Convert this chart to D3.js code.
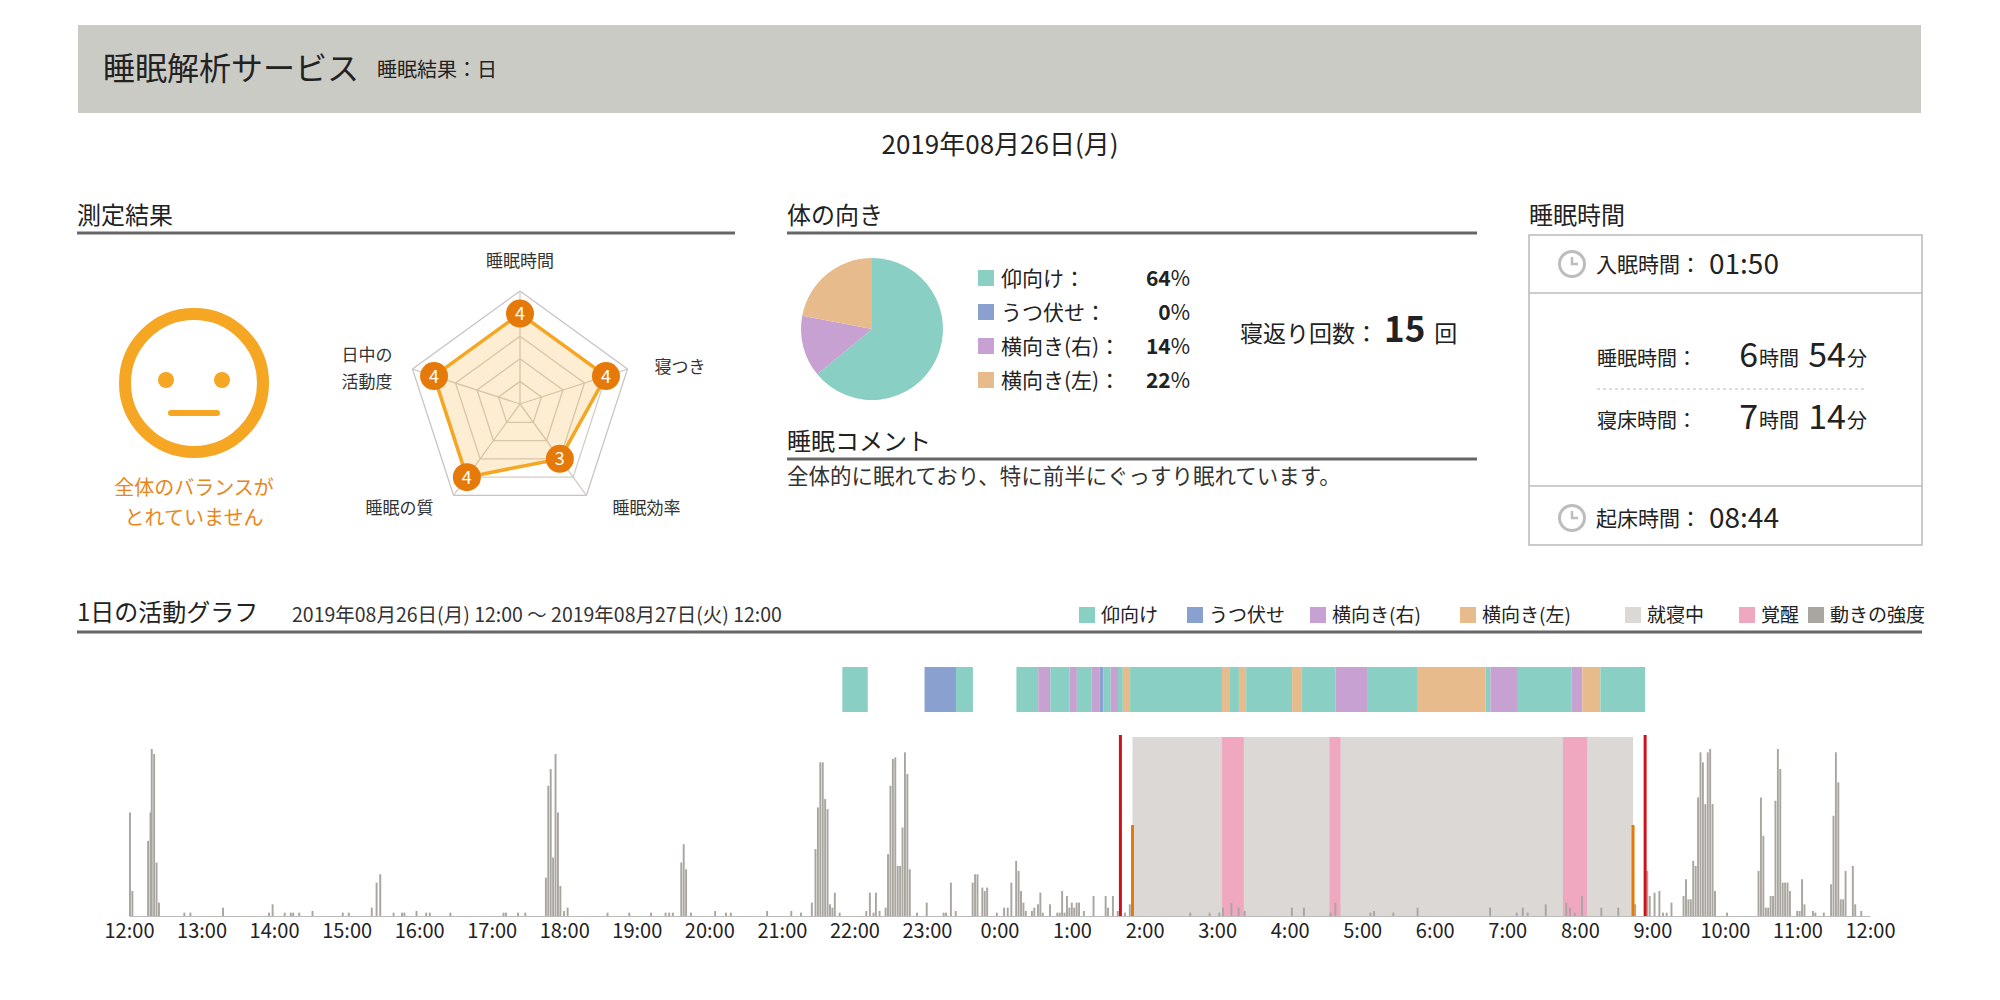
<!DOCTYPE html>
<html>
<head>
<meta charset="utf-8">
<script src="https://cdn.jsdelivr.net/npm/d3@7"></script>
<style>
  body { margin: 0; background: #fff; }
  svg { display: block; font-family: "Noto Sans CJK JP", "Noto Sans", sans-serif; }
</style>
</head>
<body>
<svg id="chart" width="2000" height="1000"></svg>
<script>
// ---- data ----
const reportDate = "2019年08月26日(月)";
const rangeText = "2019年08月26日(月) 12:00 ～ 2019年08月27日(火) 12:00";

const radarAxes = ["睡眠時間", "寝つき", "睡眠効率", "睡眠の質", "日中の活動度"];
const radarValues = [4, 4, 3, 4, 4];
const radarMax = 5;

const postureNames = ["仰向け", "うつ伏せ", "横向き(右)", "横向き(左)"];
const posturePercents = [64, 0, 14, 22];
const rollCount = 15;
const comment = "全体的に眠れており、特に前半にぐっすり眠れています。";

const sleepOnset = "1:50";
const wakeUp = "8:44";
const bedIn = "1:40";
const bedOut = "8:54";

// posture strip: [start, end, posture]
const postureSegments = [
  ["21:50", "22:11", "仰向け"],
  ["22:58", "23:24", "うつ伏せ"],
  ["23:24", "23:38", "仰向け"],
  ["0:14", "0:32", "仰向け"],
  ["0:32", "0:42", "横向き(右)"],
  ["0:42", "0:58", "仰向け"],
  ["0:58", "1:04", "横向き(右)"],
  ["1:04", "1:16", "仰向け"],
  ["1:16", "1:23", "横向き(右)"],
  ["1:23", "1:26", "うつ伏せ"],
  ["1:26", "1:32", "仰向け"],
  ["1:32", "1:38", "横向き(右)"],
  ["1:38", "1:42", "仰向け"],
  ["1:42", "1:48", "横向き(左)"],
  ["1:48", "3:04", "仰向け"],
  ["3:04", "3:10", "横向き(左)"],
  ["3:10", "3:18", "仰向け"],
  ["3:18", "3:24", "横向き(左)"],
  ["3:24", "4:02", "仰向け"],
  ["4:02", "4:10", "横向き(左)"],
  ["4:10", "4:38", "仰向け"],
  ["4:38", "5:04", "横向き(右)"],
  ["5:04", "5:46", "仰向け"],
  ["5:46", "6:42", "横向き(左)"],
  ["6:42", "6:46", "仰向け"],
  ["6:46", "7:08", "横向き(右)"],
  ["7:08", "7:53", "仰向け"],
  ["7:53", "8:02", "横向き(右)"],
  ["8:02", "8:17", "横向き(左)"],
  ["8:17", "8:54", "仰向け"]
];

// awake bands inside the sleep period
const wakeBands = [["3:04", "3:22"], ["4:33", "4:42"], ["7:46", "8:06"]];

// movement intensity (0-100), [time, value]
const activity = [
  ["12:00", 62], ["12:02", 15], ["12:15", 45], ["12:17", 62], ["12:18", 100], ["12:20", 97],
  ["12:22", 32], ["12:24", 8], ["12:45", 2], ["12:50", 2], ["13:17", 5], ["13:55", 2],
  ["13:58", 7], ["14:08", 2], ["14:13", 2], ["14:15", 2], ["14:20", 2], ["14:31", 3],
  ["14:56", 2], ["15:01", 2], ["15:20", 5], ["15:24", 20], ["15:27", 25], ["15:38", 2],
  ["15:45", 2], ["15:47", 2], ["15:57", 3], ["16:05", 2], ["16:08", 2], ["16:25", 2],
  ["17:09", 2], ["17:11", 2], ["17:21", 2], ["17:27", 2], ["17:44", 23], ["17:46", 78],
  ["17:48", 88], ["17:50", 35], ["17:52", 97], ["17:54", 62], ["17:56", 18], ["17:59", 3],
  ["18:02", 5], ["18:35", 2], ["18:53", 2], ["19:11", 2], ["19:23", 2], ["19:26", 2],
  ["19:29", 2], ["19:36", 32], ["19:38", 43], ["19:40", 28], ["19:44", 2], ["20:04", 3],
  ["20:13", 2], ["20:17", 2], ["20:47", 3], ["21:07", 3], ["21:15", 2], ["21:24", 8],
  ["21:27", 40], ["21:29", 65], ["21:31", 92], ["21:33", 92], ["21:35", 70], ["21:37", 64],
  ["21:39", 7], ["21:41", 5], ["21:43", 14], ["21:47", 2], ["22:09", 3], ["22:12", 14],
  ["22:15", 2], ["22:17", 14], ["22:20", 3], ["22:25", 5], ["22:27", 37], ["22:29", 78],
  ["22:31", 94], ["22:33", 95], ["22:35", 30], ["22:37", 30], ["22:39", 53], ["22:41", 98],
  ["22:43", 85], ["22:45", 28], ["22:51", 2], ["22:59", 8], ["23:13", 2], ["23:15", 2],
  ["23:19", 20], ["23:23", 3], ["23:37", 20], ["23:39", 25], ["23:41", 25], ["23:45", 17],
  ["23:47", 15], ["23:49", 17], ["23:57", 2], ["0:03", 5], ["0:06", 5], ["0:09", 20],
  ["0:13", 33], ["0:15", 27], ["0:17", 15], ["0:19", 8], ["0:21", 3], ["0:26", 3],
  ["0:28", 5], ["0:31", 7], ["0:33", 14], ["0:35", 2], ["0:41", 7], ["0:47", 2],
  ["0:49", 2], ["0:51", 15], ["0:53", 2], ["0:55", 12], ["0:57", 5], ["0:59", 8],
  ["1:01", 5], ["1:03", 8], ["1:05", 8], ["1:09", 3], ["1:17", 12], ["1:27", 12],
  ["1:29", 5], ["1:33", 12], ["1:37", 3], ["1:43", 2], ["1:47", 7],
  ["2:37", 2], ["2:53", 2], ["3:01", 2], ["3:04", 5], ["3:11", 8], ["3:17", 5],
  ["3:22", 3], ["4:01", 5], ["4:11", 5], ["4:33", 2], ["4:37", 8], ["5:06", 2],
  ["5:09", 3], ["5:25", 2], ["5:45", 5], ["6:45", 5], ["7:07", 2], ["7:12", 5],
  ["7:16", 2], ["7:31", 7], ["7:48", 8], ["7:51", 5], ["7:55", 2], ["8:01", 12],
  ["8:17", 5], ["8:31", 5], ["8:45", 7],
  ["8:55", 27], ["8:57", 12], ["9:01", 14], ["9:05", 15], ["9:08", 2], ["9:11", 2],
  ["9:15", 8], ["9:25", 12], ["9:27", 22], ["9:29", 10], ["9:31", 10], ["9:33", 33],
  ["9:35", 30], ["9:37", 71], ["9:39", 98], ["9:41", 92], ["9:43", 67], ["9:45", 98],
  ["9:47", 100], ["9:49", 67], ["9:51", 15], ["10:01", 2], ["10:27", 27], ["10:29", 71],
  ["10:31", 48], ["10:33", 5], ["10:35", 5], ["10:37", 12], ["10:39", 12], ["10:41", 69],
  ["10:43", 100], ["10:45", 88], ["10:47", 20], ["10:49", 20], ["10:51", 20], ["10:53", 15],
  ["10:59", 3], ["11:01", 3], ["11:03", 22], ["11:05", 7], ["11:12", 3], ["11:14", 2],
  ["11:21", 2], ["11:27", 19], ["11:29", 60], ["11:31", 98], ["11:33", 80], ["11:35", 10],
  ["11:37", 10], ["11:39", 27], ["11:45", 30], ["11:47", 7], ["11:52", 3]
];

// ---- palette ----
const postureColor = d3.scaleOrdinal()
  .domain(postureNames)
  .range(["#8ACFC3", "#8AA1CF", "#C7A1D1", "#E8BB8C"]);
const orange = "#F5A623";
const darkOrange = "#E57A0A";
const textColor = "#222";

// "H:MM" -> Date on the 26th (>=12h) or the 27th (<12h)
function t(hm) {
  const [h, m] = hm.split(":").map(Number);
  return new Date(2019, 7, h >= 12 ? 26 : 27, h, m);
}

const svg = d3.select("#chart");

// ---- header ----
svg.append("rect").attr("x", 78).attr("y", 25).attr("width", 1843).attr("height", 88).attr("fill", "#CBCBC6");
svg.append("text").attr("x", 103).attr("y", 80).attr("font-size", 32).attr("fill", textColor).text("睡眠解析サービス");
svg.append("text").attr("x", 377).attr("y", 77).attr("font-size", 20).attr("fill", textColor).text("睡眠結果：日");
svg.append("text").attr("x", 1000).attr("y", 154).attr("text-anchor", "middle").attr("font-size", 26)
  .attr("fill", textColor).text(reportDate);

function sectionHeader(label, x, y, x2) {
  svg.append("text").attr("x", x).attr("y", y).attr("font-size", 24).attr("fill", textColor).text(label);
  svg.append("line").attr("x1", x).attr("x2", x2).attr("y1", y + 9).attr("y2", y + 9)
    .attr("stroke", "#666").attr("stroke-width", 3);
}
sectionHeader("測定結果", 77, 224, 735);
sectionHeader("体の向き", 787, 224, 1477);
svg.append("text").attr("x", 1529).attr("y", 224).attr("font-size", 24).attr("fill", textColor).text("睡眠時間");
sectionHeader("睡眠コメント", 787, 450, 1477);

// ---- face ----
const face = svg.append("g").attr("transform", "translate(194,383)");
face.append("circle").attr("r", 69).attr("fill", "none").attr("stroke", orange).attr("stroke-width", 12);
face.selectAll("circle.eye").data([-28, 28]).join("circle").attr("class", "eye")
  .attr("cx", d => d).attr("cy", -3).attr("r", 8).attr("fill", orange);
face.append("line").attr("x1", -23).attr("x2", 23).attr("y1", 30).attr("y2", 30)
  .attr("stroke", orange).attr("stroke-width", 6).attr("stroke-linecap", "round");
svg.append("text").attr("x", 194).attr("y", 495).attr("text-anchor", "middle").attr("font-size", 20)
  .attr("fill", "#E8861A").text("全体のバランスが");
svg.append("text").attr("x", 194).attr("y", 525).attr("text-anchor", "middle").attr("font-size", 20)
  .attr("fill", "#E8861A").text("とれていません");

// ---- radar ----
const rc = { x: 520, y: 404 };
const rR = d3.scaleLinear().domain([0, radarMax]).range([0, 113]);
const ang = d3.scaleLinear().domain([0, radarAxes.length]).range([0, 2 * Math.PI]);
const pt = (i, v) => [rc.x + rR(v) * Math.sin(ang(i)), rc.y - rR(v) * Math.cos(ang(i))];
const radar = svg.append("g");
const ringLine = d3.line().curve(d3.curveLinearClosed);

radar.selectAll("path.ring").data(d3.range(1, radarMax + 1)).join("path").attr("class", "ring")
  .attr("d", lv => ringLine(radarAxes.map((_, i) => pt(i, lv))))
  .attr("fill", "none").attr("stroke", lv => lv === radarMax ? "#c4c4c4" : "#d3cdc4").attr("stroke-width", 1.3);
radar.selectAll("line.spoke").data(radarAxes).join("line").attr("class", "spoke")
  .attr("x1", rc.x).attr("y1", rc.y)
  .attr("x2", (_, i) => pt(i, radarMax)[0]).attr("y2", (_, i) => pt(i, radarMax)[1])
  .attr("stroke", "#d3cdc4").attr("stroke-width", 1.3);
radar.append("path")
  .attr("d", ringLine(radarValues.map((v, i) => pt(i, v))))
  .attr("fill", orange).attr("fill-opacity", 0.2).attr("stroke", orange).attr("stroke-width", 3.5);
const marks = radar.selectAll("g.mark").data(radarValues).join("g").attr("class", "mark")
  .attr("transform", (v, i) => `translate(${pt(i, v)})`);
marks.append("circle").attr("r", 14).attr("fill", darkOrange);
marks.append("text").attr("text-anchor", "middle").attr("dy", "0.36em").attr("font-size", 18)
  .attr("fill", "#fff").text(v => v);

// axis labels around the outer ring
const labelPlace = [
  { dx: 0, dy: -24, anchor: "middle" },
  { dx: 27, dy: 4, anchor: "start" },
  { dx: 26, dy: 19, anchor: "start" },
  { dx: -20, dy: 19, anchor: "end" },
  { dx: -20, dy: -8, anchor: "end" }
];
radarAxes.forEach((name, i) => {
  const [x, y] = pt(i, radarMax);
  const p = labelPlace[i];
  const lines = name === "日中の活動度" ? ["日中の", "活動度"] : [name];
  radar.append("text").attr("x", x + p.dx).attr("y", y + p.dy).attr("text-anchor", p.anchor)
    .attr("font-size", 17).attr("fill", "#333")
    .selectAll("tspan").data(lines).join("tspan")
    .attr("x", x + p.dx).attr("dy", (_, j) => j ? 27 : 0).text(d => d);
});

// ---- posture pie ----
const pie = d3.pie().sort(null).value(d => d)(posturePercents);
const arc = d3.arc().innerRadius(0).outerRadius(71);
svg.append("g").attr("transform", "translate(872,329)")
  .selectAll("path").data(pie).join("path")
  .attr("d", arc).attr("fill", (d, i) => postureColor(postureNames[i]));

const legend = svg.append("g").selectAll("g").data(postureNames).join("g")
  .attr("transform", (d, i) => `translate(978,${278 + i * 34})`);
legend.append("rect").attr("y", -8).attr("width", 16).attr("height", 16).attr("fill", d => postureColor(d));
legend.append("text").attr("x", 23).attr("y", 8).attr("font-size", 21).attr("fill", textColor).text(d => d + "：");
const pct = legend.append("text").attr("x", 212).attr("y", 8).attr("text-anchor", "end")
  .attr("font-size", 21).attr("fill", textColor);
pct.append("tspan").attr("font-weight", "bold").text((d, i) => posturePercents[i]);
pct.append("tspan").text("%");

const roll = svg.append("text").attr("x", 1240).attr("y", 342).attr("fill", textColor);
roll.append("tspan").attr("font-size", 23).text("寝返り回数：");
roll.append("tspan").attr("font-size", 35).attr("font-weight", "bold").attr("dx", 6).text(rollCount);
roll.append("tspan").attr("font-size", 23).attr("dx", 9).text("回");

svg.append("text").attr("x", 787).attr("y", 484).attr("font-size", 21.5).attr("fill", "#333").text(comment);

// ---- sleep time box ----
const box = svg.append("g");
box.append("rect").attr("x", 1529).attr("y", 235).attr("width", 393).attr("height", 310)
  .attr("fill", "none").attr("stroke", "#bdbdbd").attr("stroke-width", 1.6);
[293, 486].forEach(y => box.append("line").attr("x1", 1529).attr("x2", 1922).attr("y1", y).attr("y2", y)
  .attr("stroke", "#bdbdbd").attr("stroke-width", 1.6));
box.append("line").attr("x1", 1597).attr("x2", 1866).attr("y1", 389).attr("y2", 389)
  .attr("stroke", "#bbb").attr("stroke-width", 1.2).attr("stroke-dasharray", "3,3");

function clockRow(y, label, value) {
  const c = box.append("g").attr("transform", `translate(1572,${y})`);
  c.append("circle").attr("r", 12.5).attr("fill", "none").attr("stroke", "#bdbdbd").attr("stroke-width", 3);
  c.append("path").attr("d", "M0,-7V0H6").attr("fill", "none").attr("stroke", "#bdbdbd").attr("stroke-width", 2.5);
  box.append("text").attr("x", 1596).attr("y", y + 8).attr("font-size", 21).attr("fill", textColor).text(label);
  box.append("text").attr("x", 1709).attr("y", y + 10).attr("font-size", 28).attr("fill", textColor).text(value);
}
const pad2 = d3.format("02d");
const fmtHM = d => `${pad2(d.getHours())}:${pad2(d.getMinutes())}`;
clockRow(264, "入眠時間：", fmtHM(t(sleepOnset)));
clockRow(518, "起床時間：", fmtHM(t(wakeUp)));

function durationRow(y, label, mins) {
  box.append("text").attr("x", 1597).attr("y", y).attr("font-size", 20).attr("fill", textColor).text(label);
  box.append("text").attr("x", 1758).attr("y", y + 1).attr("text-anchor", "end").attr("font-size", 34)
    .attr("fill", textColor).text(Math.floor(mins / 60));
  box.append("text").attr("x", 1759).attr("y", y).attr("font-size", 20).attr("fill", textColor).text("時間");
  box.append("text").attr("x", 1846).attr("y", y + 1).attr("text-anchor", "end").attr("font-size", 34)
    .attr("fill", textColor).text(mins % 60);
  box.append("text").attr("x", 1847).attr("y", y).attr("font-size", 20).attr("fill", textColor).text("分");
}
durationRow(366, "睡眠時間：", (t(wakeUp) - t(sleepOnset)) / 60000);
durationRow(428, "寝床時間：", (t(bedOut) - t(bedIn)) / 60000);

// ---- activity graph ----
svg.append("text").attr("x", 77).attr("y", 621).attr("font-size", 24).attr("fill", textColor).text("1日の活動グラフ");
svg.append("text").attr("x", 292).attr("y", 622).attr("font-size", 19.5).attr("fill", "#333").text(rangeText);
svg.append("line").attr("x1", 77).attr("x2", 1922).attr("y1", 632).attr("y2", 632)
  .attr("stroke", "#666").attr("stroke-width", 3);

const legendItems = [
  ...postureNames.map(n => [n, postureColor(n)]),
  ["就寝中", "#DCD8D5"], ["覚醒", "#F0A8C1"], ["動きの強度", "#A9A59F"]
];
const legendX = [1079, 1187, 1310, 1460, 1625, 1739, 1808];
const lg = svg.append("g").selectAll("g").data(legendItems).join("g")
  .attr("transform", (d, i) => `translate(${legendX[i]},615)`);
lg.append("rect").attr("y", -8).attr("width", 16).attr("height", 16).attr("fill", d => d[1]);
lg.append("text").attr("x", 22).attr("y", 7).attr("font-size", 19).attr("fill", textColor).text(d => d[0]);

const x = d3.scaleTime()
  .domain([new Date(2019, 7, 26, 12, 0), new Date(2019, 7, 27, 12, 0)])
  .range([129, 1870]);
const y = d3.scaleLinear().domain([0, 100]).range([916, 749]);
const g = svg.append("g");

// posture strip
g.selectAll("rect.posture").data(postureSegments).join("rect").attr("class", "posture")
  .attr("x", d => x(t(d[0]))).attr("width", d => x(t(d[1])) - x(t(d[0])))
  .attr("y", 667).attr("height", 45).attr("fill", d => postureColor(d[2]));

// sleep period and awake bands
g.append("rect").attr("x", x(t(sleepOnset))).attr("width", x(t(wakeUp)) - x(t(sleepOnset)))
  .attr("y", 737).attr("height", y(0) - 737).attr("fill", "#DCD8D5");
g.selectAll("rect.wake").data(wakeBands).join("rect").attr("class", "wake")
  .attr("x", d => x(t(d[0]))).attr("width", d => x(t(d[1])) - x(t(d[0])))
  .attr("y", 737).attr("height", y(0) - 737).attr("fill", "#F0A8C1");

// movement bars
const binMs = 2 * 60000;
g.selectAll("rect.act").data(activity).join("rect").attr("class", "act")
  .attr("x", d => x(t(d[0])))
  .attr("width", d => Math.max(1, x(new Date(+t(d[0]) + binMs)) - x(t(d[0])) - 0.5))
  .attr("y", d => y(d[1])).attr("height", d => y(0) - y(d[1]))
  .attr("fill", "#A9A59F");

// bed in/out (red) and sleep onset / wake (orange)
g.selectAll("line.bed").data([bedIn, bedOut]).join("line").attr("class", "bed")
  .attr("x1", d => x(t(d))).attr("x2", d => x(t(d))).attr("y1", 735).attr("y2", y(0))
  .attr("stroke", "#D0101B").attr("stroke-width", 3);
g.selectAll("line.sleep").data([sleepOnset, wakeUp]).join("line").attr("class", "sleep")
  .attr("x1", d => x(t(d))).attr("x2", d => x(t(d))).attr("y1", 825).attr("y2", y(0))
  .attr("stroke", darkOrange).attr("stroke-width", 3);

// time axis
const axis = g.append("g").attr("transform", `translate(0,${y(0)})`)
  .call(d3.axisBottom(x).ticks(d3.timeHour.every(1)).tickFormat(d3.timeFormat("%-H:%M")).tickSize(0).tickPadding(8));
axis.select(".domain").attr("stroke", "#bbb");
axis.selectAll("text").attr("font-size", 20).attr("fill", textColor)
  .attr("font-family", "'Noto Sans CJK JP', sans-serif");
</script>
</body>
</html>
